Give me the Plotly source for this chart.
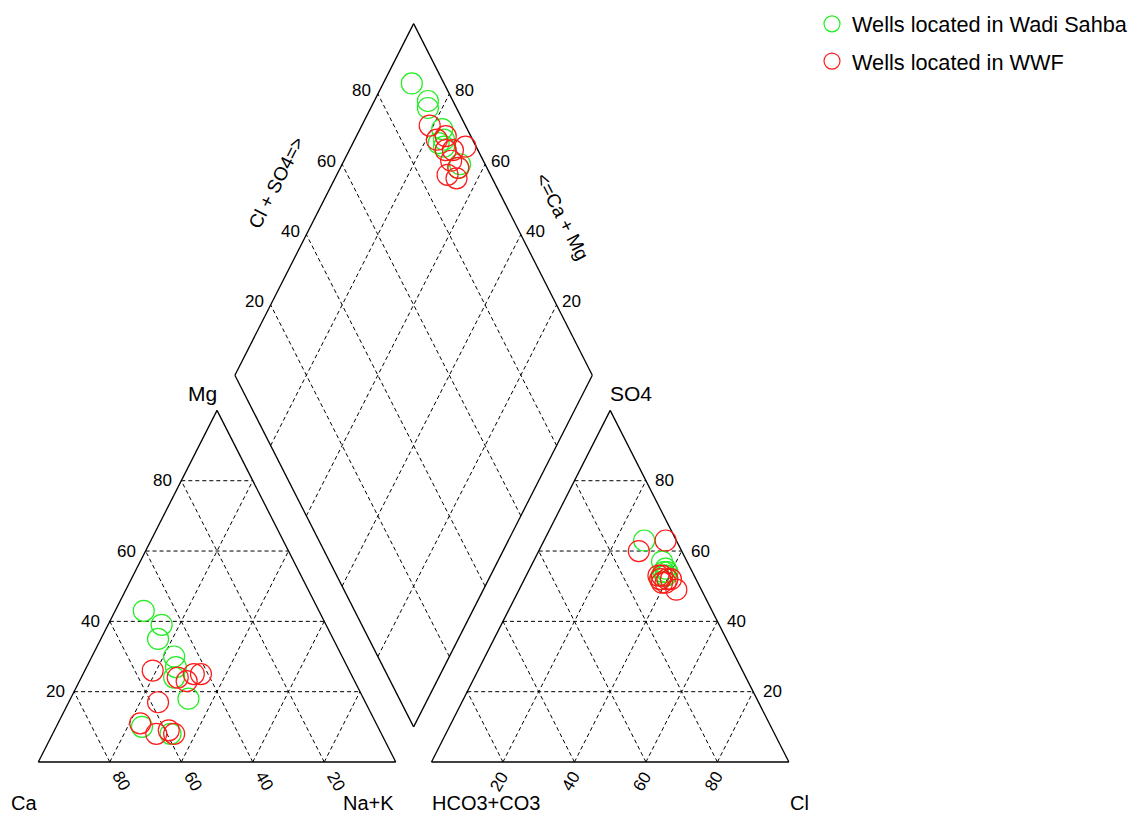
import numpy as np
import plotly.graph_objects as go

# ---- Data: percent of meq/L ----
# Wells located in Wadi Sahba
ws_ca   = [49, 46, 49, 47, 66, 48, 50, 49, 59]
ws_mg   = [43, 39, 35, 30, 10, 27, 24, 18, 8]
ws_nak  = [8, 15, 16, 23, 24, 25, 26, 33, 33]
ws_hco3 = [9, 7, 8, 7, 10, 8, 9, 7, 8]
ws_so4  = [63, 57, 53, 54, 52, 54, 53, 55, 53]
ws_cl   = [28, 36, 39, 39, 38, 38, 38, 38, 39]

# Wells located in WWF
wf_ca   = [55, 66, 58, 49, 63, 47, 44, 59, 42, 58]
wf_mg   = [26, 11, 17, 24, 8, 23, 25, 9, 25, 8]
wf_nak  = [19, 23, 25, 27, 29, 30, 31, 32, 33, 34]
wf_hco3 = [10, 10, 7, 9, 7, 9, 12, 3, 8, 10]
wf_so4  = [53, 52, 49, 51, 52, 53, 60, 63, 52, 51]
wf_cl   = [37, 38, 44, 40, 41, 38, 28, 34, 40, 39]

tick_values = [20, 40, 60, 80]

# ---- Geometry (side = 1) ----
H = np.sqrt(3) / 2
GAP = 0.1
FONT = "Liberation Sans, Arial, sans-serif"


def cat_xy(ca, mg, na):
    ca, mg, na = map(np.asarray, (ca, mg, na))
    t = ca + mg + na
    return (na + mg / 2) / t, mg / t * H


def an_xy(hco3, so4, cl):
    hco3, so4, cl = map(np.asarray, (hco3, so4, cl))
    t = hco3 + so4 + cl
    return 1 + GAP + (cl + so4 / 2) / t, so4 / t * H


def dia_xy(a, b):
    a = np.asarray(a, dtype=float)
    b = np.asarray(b, dtype=float)
    return 1 + GAP / 2 + 0.5 * (b - a), GAP * H + H * (a + b)


def dia_from(ca, mg, na, hco3, so4, cl):
    ca, mg, na, hco3, so4, cl = map(lambda v: np.asarray(v, dtype=float),
                                    (ca, mg, na, hco3, so4, cl))
    a = (ca + mg) / (ca + mg + na)
    b = (so4 + cl) / (hco3 + so4 + cl)
    return dia_xy(a, b)


fig = go.Figure()


def add_segments(segs, dash=None, width=1.0):
    xs, ys = [], []
    for (x0, y0), (x1, y1) in segs:
        xs += [x0, x1, None]
        ys += [y0, y1, None]
    fig.add_trace(go.Scatter(x=xs, y=ys, mode="lines", hoverinfo="skip",
                             showlegend=False,
                             line=dict(color="black", width=width, dash=dash)))


def P(xy):
    return (float(xy[0]), float(xy[1]))


# Grid lines (dashed)
grid = []
for v in tick_values:
    f = v / 100
    # cation triangle
    grid.append((P(cat_xy(1 - f, f, 0)), P(cat_xy(0, f, 1 - f))))      # Mg const
    grid.append((P(cat_xy(1 - f, 0, f)), P(cat_xy(0, 1 - f, f))))      # Na const
    grid.append((P(cat_xy(f, 0, 1 - f)), P(cat_xy(f, 1 - f, 0))))      # Ca const
    # anion triangle
    grid.append((P(an_xy(1 - f, f, 0)), P(an_xy(0, f, 1 - f))))        # SO4 const
    grid.append((P(an_xy(1 - f, 0, f)), P(an_xy(0, 1 - f, f))))        # Cl const
    grid.append((P(an_xy(f, 0, 1 - f)), P(an_xy(f, 1 - f, 0))))        # HCO3 const
    # diamond
    grid.append((P(dia_xy(f, 0)), P(dia_xy(f, 1))))
    grid.append((P(dia_xy(0, f)), P(dia_xy(1, f))))
add_segments(grid, dash="4px,3px", width=1.0)

# Outlines (solid)
outline = []
c_ca, c_mg, c_na = P(cat_xy(1, 0, 0)), P(cat_xy(0, 1, 0)), P(cat_xy(0, 0, 1))
a_hc, a_so, a_cl = P(an_xy(1, 0, 0)), P(an_xy(0, 1, 0)), P(an_xy(0, 0, 1))
d_b, d_l, d_t, d_r = P(dia_xy(0, 0)), P(dia_xy(1, 0)), P(dia_xy(1, 1)), P(dia_xy(0, 1))
outline += [(c_ca, c_mg), (c_mg, c_na), (c_na, c_ca)]
outline += [(a_hc, a_so), (a_so, a_cl), (a_cl, a_hc)]
outline += [(d_b, d_l), (d_l, d_t), (d_t, d_r), (d_r, d_b)]
add_segments(outline, width=1.3)

# ---- Data points ----
groups = [
    ("Wells located in Wadi Sahba", "#22ee22",
     ws_ca, ws_mg, ws_nak, ws_hco3, ws_so4, ws_cl),
    ("Wells located in WWF", "#ff1a1a",
     wf_ca, wf_mg, wf_nak, wf_hco3, wf_so4, wf_cl),
]
for i, (name, col, ca, mg, na, hc, so, cl) in enumerate(groups):
    cx, cy = cat_xy(ca, mg, na)
    ax, ay = an_xy(hc, so, cl)
    dx, dy = dia_from(ca, mg, na, hc, so, cl)
    xs = list(cx) + list(ax) + list(dx)
    ys = list(cy) + list(ay) + list(dy)
    fig.add_trace(go.Scatter(
        x=xs, y=ys, mode="markers", name=name, legendgroup=f"g{i}",
        marker=dict(symbol="circle-open", size=21, color=col,
                    line=dict(width=1.2, color=col)),
    ))

# ---- Text ----
ann = []


def text(x, y, s, size=17, dx=0, dy=0, angle=0):
    ann.append(dict(x=x, y=y, xref="x", yref="y", text=s, showarrow=False,
                    xshift=dx, yshift=dy, textangle=angle,
                    font=dict(family=FONT, size=size, color="black")))


for v in tick_values:
    f = v / 100
    # Mg ticks on left edge of cation triangle
    x, y = cat_xy(1 - f, f, 0)
    text(x, y, str(v), dx=-19, dy=0)
    # Ca ticks on base of cation triangle
    x, y = cat_xy(f, 0, 1 - f)
    text(x, y, str(v), dx=12, dy=-19, angle=60)
    # SO4 ticks on right edge of anion triangle
    x, y = an_xy(0, f, 1 - f)
    text(x, y, str(v), dx=19, dy=0)
    # Cl ticks on base of anion triangle
    x, y = an_xy(1 - f, 0, f)
    text(x, y, str(v), dx=-4, dy=-19, angle=-60)
    # Diamond: Cl+SO4 on upper-left edge
    x, y = dia_xy(1, f)
    text(x, y, str(v), dx=-16, dy=3)
    # Diamond: Ca+Mg on upper-right edge
    x, y = dia_xy(f, 1)
    text(x, y, str(v), dx=15, dy=3)

edge_ang = float(np.degrees(np.arctan2(406 * H, 359 * 0.5)))
x, y = dia_xy(1, 0.547)
text(x, y, "Cl + SO4=>", size=19, dx=-56, dy=0, angle=-edge_ang)
x, y = dia_xy(0.45, 1)
text(x, y, "<=Ca + Mg", size=19, dx=51, dy=0, angle=edge_ang)

text(*c_mg, "Mg", size=21, dx=-15, dy=17)
text(*a_so, "SO4", size=21, dx=21, dy=17)
text(*c_ca, "Ca", size=20, dx=-14, dy=-41)
text(*c_na, "Na+K", size=20, dx=-27, dy=-41)
text(*a_hc, "HCO3+CO3", size=20, dx=55, dy=-41)
text(*a_cl, "Cl", size=20, dx=11, dy=-41)

XSCALE, YSCALE = 359.0, 406.0
X0, Y0 = 38.5, 762.0
fig.update_layout(
    width=1133, height=817,
    margin=dict(l=0, r=0, t=0, b=0, pad=0),
    plot_bgcolor="white", paper_bgcolor="white",
    xaxis=dict(range=[-X0 / XSCALE, (1133 - X0) / XSCALE], visible=False,
               showgrid=False, zeroline=False, fixedrange=True),
    yaxis=dict(range=[-(817 - Y0) / YSCALE, Y0 / YSCALE], visible=False,
               showgrid=False, zeroline=False, fixedrange=True),
    annotations=ann,
    showlegend=True,
    legend=dict(x=0.72, y=0.996, xanchor="left", yanchor="top",
                font=dict(family=FONT, size=21.7, color="black"),
                bgcolor="rgba(0,0,0,0)", tracegroupgap=6,
                itemsizing="trace"),
)

fig.write_html("out.html", config={"displayModeBar": False},
               post_script="document.body.style.margin='0';")
